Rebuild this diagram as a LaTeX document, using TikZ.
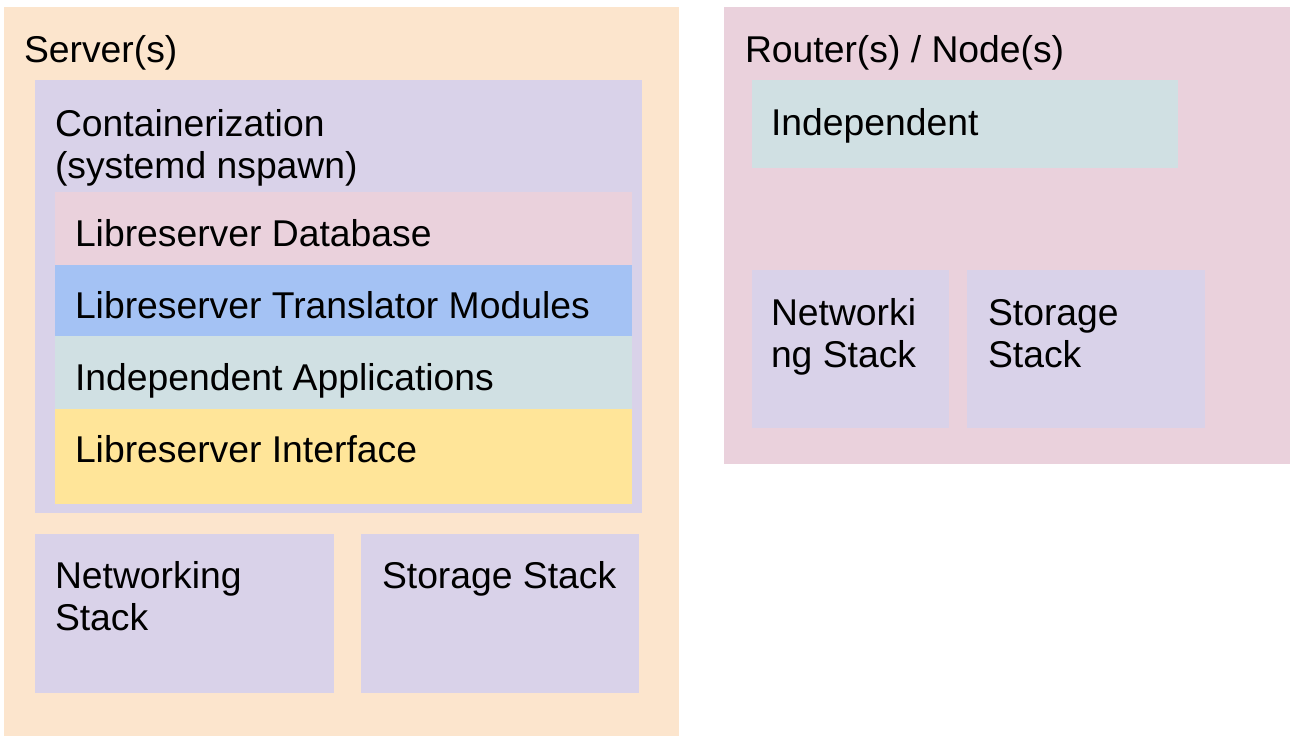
\documentclass[tikz,border=0pt]{standalone}
\usepackage{fontspec}
\setmainfont{Liberation Sans}
\definecolor{cServer}{HTML}{FCE5CD}
\definecolor{cPurple}{HTML}{D9D2E9}
\definecolor{cPink}{HTML}{EAD1DC}
\definecolor{cBlue}{HTML}{A4C2F4}
\definecolor{cCyan}{HTML}{D0E0E3}
\definecolor{cYellow}{HTML}{FFE599}
\tikzset{
  box/.style={rectangle, draw=none, inner sep=0pt, outer sep=0pt, anchor=north west},
  lbl/.style={anchor=base west, inner sep=0pt, outer sep=0pt, font=\fontsize{37.3}{42}\selectfont, align=left},
}
\newcommand{\bx}[6]{\node[box, fill=#6, minimum width=#4pt-#2pt, minimum height=#5pt-#3pt] (#1) at (#2,#3) {};}
\begin{document}
\begin{tikzpicture}[x=1pt,y=-1pt]
\useasboundingbox (0,0) rectangle (1290,736);
\fill[white] (0,0) rectangle (1290,736);
% Server
\bx{server}{4}{7}{679}{736}{cServer}
\node[lbl] (serverT) at (24,62) {Server(s)};
\bx{cont}{35}{80}{642}{513}{cPurple}
\node[lbl] (contT) at (55,178) {Containerization\\(systemd nspawn)};
\bx{db}{55}{192}{632}{265}{cPink}
\node[lbl] (dbT) at (75,246) {Libreserver Database};
\bx{tr}{55}{265}{632}{336}{cBlue}
\node[lbl] (trT) at (75,318) {Libreserver Translator Modules};
\bx{ia}{55}{336}{632}{409}{cCyan}
\node[lbl] (iaT) at (75,390) {Independent Applications};
\bx{ui}{55}{409}{632}{504}{cYellow}
\node[lbl] (uiT) at (75,462) {Libreserver Interface};
\bx{net}{35}{534}{334}{693}{cPurple}
\node[lbl] (netT) at (55,630) {Networking\\Stack};
\bx{sto}{361}{534}{639}{693}{cPurple}
\node[lbl] (stoT) at (382,588) {Storage Stack};
% Router
\bx{router}{724}{7}{1290}{464}{cPink}
\node[lbl] (routerT) at (745,62) {Router(s) / Node(s)};
\bx{ind}{752}{80}{1178}{168}{cCyan}
\node[lbl] (indT) at (771,135) {Independent};
\bx{rnet}{752}{270}{949}{428}{cPurple}
\node[lbl] (rnetT) at (771,367) {Networki\\ng Stack};
\bx{rsto}{967}{270}{1205}{428}{cPurple}
\node[lbl] (rstoT) at (988,367) {Storage\\Stack};
\end{tikzpicture}
\end{document}
